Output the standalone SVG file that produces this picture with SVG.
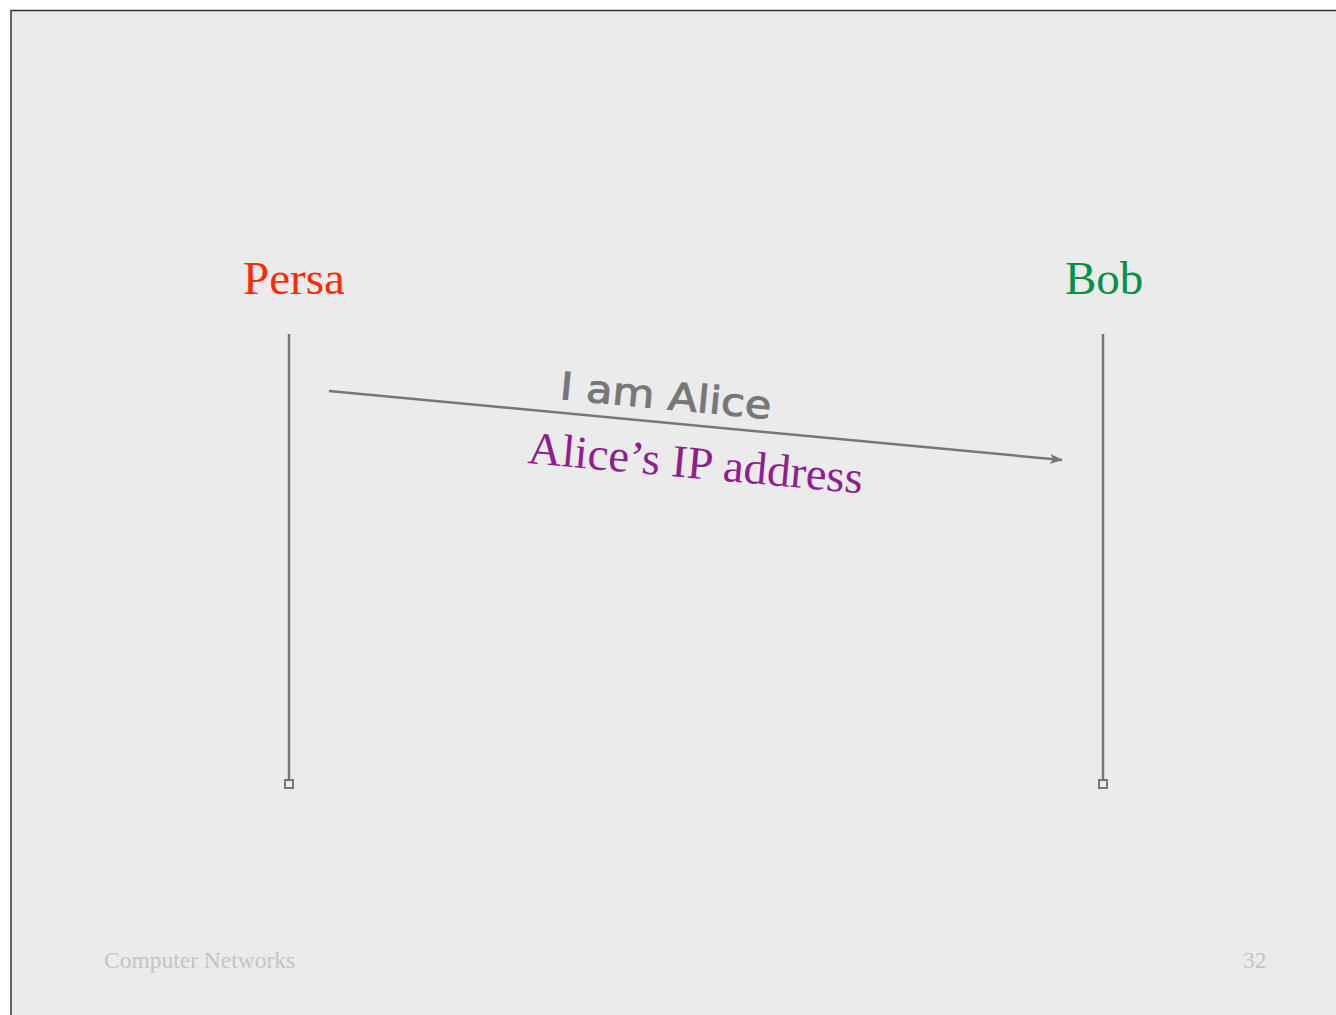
<svg xmlns="http://www.w3.org/2000/svg" width="1336" height="1015" viewBox="0 0 1336 1015">
<style>
.serif{font-family:"Liberation Serif","Times New Roman",serif}
.life{stroke:#777;stroke-width:2.5;fill:none}
.foot{fill:#c4c4c4;font-size:23.5px}
</style>
<defs>
<marker id="ah" markerWidth="13" markerHeight="10" refX="12" refY="5" orient="auto" markerUnits="userSpaceOnUse">
<path d="M0,0 L13,5 L0,10 L3,5 Z" fill="#777"/>
</marker>
</defs>
<rect x="0" y="0" width="1336" height="1015" fill="#ffffff"/>
<rect x="11" y="10.5" width="1330" height="1010" fill="#ebebeb" stroke="#333" stroke-width="1.5"/>
<g id="persa">
<text class="serif" x="243" y="294" font-size="47" fill="#ff2a00">Persa</text>
<line class="life" x1="289" y1="334" x2="289" y2="780"/>
<rect x="285" y="780" width="8" height="8" fill="none" stroke="#777" stroke-width="2"/>
</g>
<g id="bob">
<text class="serif" x="1065" y="294" font-size="47" fill="#00904a">Bob</text>
<line class="life" x1="1103" y1="334" x2="1103" y2="780"/>
<rect x="1099" y="780" width="8" height="8" fill="none" stroke="#777" stroke-width="2"/>
</g>
<g id="connectors">
<line x1="329" y1="391" x2="1062" y2="460" stroke="#777" stroke-width="2.5" marker-end="url(#ah)"/>
<text transform="translate(559,399) rotate(5.4)" font-family="'DejaVu Sans',sans-serif" font-size="38" fill="#777" stroke="#777" stroke-width="1" textLength="212" lengthAdjust="spacingAndGlyphs">I am Alice</text>
<text class="serif" transform="translate(527,463) rotate(5.2)" font-size="46" fill="#8f1f8f" textLength="336" lengthAdjust="spacingAndGlyphs">Alice’s IP address</text>
</g>
<text class="serif foot" x="104" y="968">Computer Networks</text>
<text class="serif foot" x="1243" y="968">32</text>
</svg>
